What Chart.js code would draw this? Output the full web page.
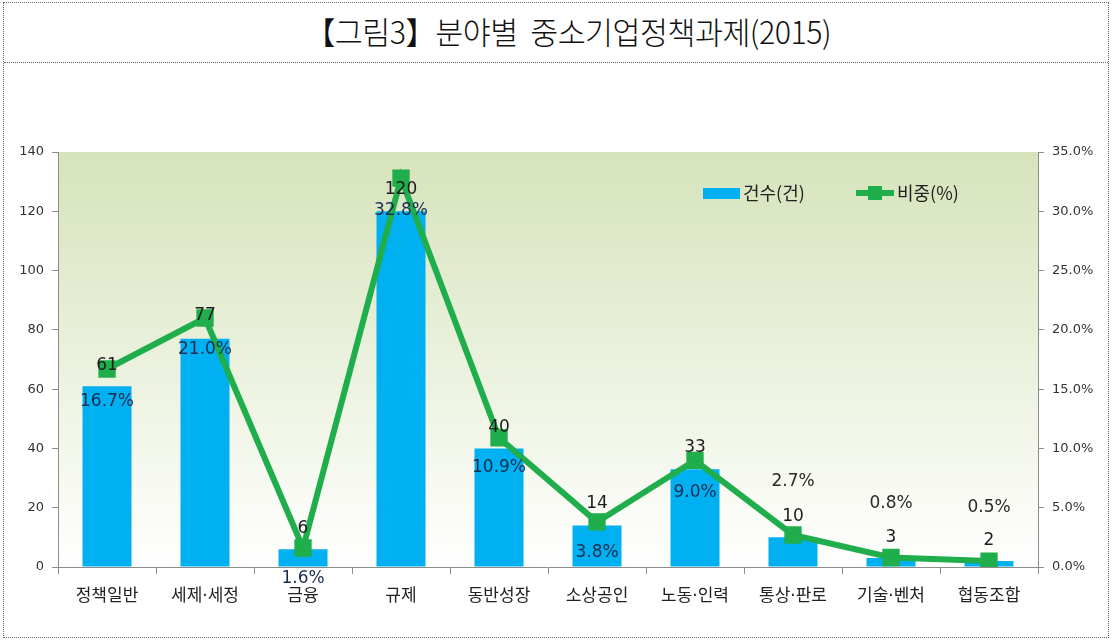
<!DOCTYPE html>
<html>
<head>
<meta charset="utf-8">
<script src="https://cdn.jsdelivr.net/npm/chart.js@4.4.1/dist/chart.umd.min.js"></script>
<style>
body { margin: 0; background: #fff; }
#frame { position: absolute; left: 3px; top: 2px; width: 1104px; height: 634px; border: 1px dotted #666; }
#title { position: absolute; left: 0; top: 0; width: 100%; height: 59px; border-bottom: 1px dotted #666; }
#title span { position: absolute; left: 564px; top: 27px; transform: translate(-50%, -50%) scaleX(0.98);
  white-space: nowrap; font-family: "Noto Sans CJK KR", sans-serif; font-weight: 300; font-size: 31px; color: #111; letter-spacing: -0.5px; }
#wrap { position: absolute; left: 0; top: 64px; width: 1112px; height: 576px; }
</style>
</head>
<body>
<div id="frame"><div id="title"><span>【그림3】분야별&nbsp;&nbsp;중소기업정책과제(2015)</span></div></div>
<div id="wrap"><canvas id="chart" width="1112" height="576"></canvas></div>
<script>
const categories = ['정책일반', '세제·세정', '금융', '규제', '동반성장', '소상공인', '노동·인력', '통상·판로', '기술·벤처', '협동조합'];
const counts = [61, 77, 6, 120, 40, 14, 33, 10, 3, 2];
const shares = [16.7, 21.0, 1.6, 32.8, 10.9, 3.8, 9.0, 2.7, 0.8, 0.5];
const countTicksMax = 140;
const shareTicksMax = 35;

// label nudges (px, + = down) taken from the original layout
const countLabelShift = [-21, -23, -21, -22, -21, -22, -22, -21, -21, -20];
const shareLabelShift = [33, 32, 31, 32, 30, 31, 32, -53, -54, -53];

const bgPlugin = {
    id: 'plotBg',
    beforeDraw(chart) {
        const a = chart.chartArea, ctx = chart.ctx;
        const g = ctx.createLinearGradient(0, a.top, 0, a.bottom);
        g.addColorStop(0, '#d6e3bb');
        g.addColorStop(1, '#ffffff');
        ctx.save();
        ctx.fillStyle = g;
        ctx.fillRect(a.left, a.top, a.right - a.left, a.bottom - a.top);
        ctx.restore();
    }
};

const labelPlugin = {
    id: 'valueLabels',
    afterDraw(chart) {
        const ctx = chart.ctx;
        const barMeta = chart.getDatasetMeta(1);
        const lineMeta = chart.getDatasetMeta(0);
        ctx.save();
        ctx.textAlign = 'center';
        ctx.textBaseline = 'middle';
        ctx.font = '17px "DejaVu Sans", sans-serif';
        barMeta.data.forEach(function(bar, i){
            ctx.fillStyle = '#1c1c1c';
            ctx.fillText(String(counts[i]), bar.x, bar.y + countLabelShift[i]);
        });
        lineMeta.data.forEach(function(pt, i){
            ctx.fillStyle = shareLabelShift[i] > 0 ? '#1b2c50' : '#2a2a2a';
            ctx.fillText(shares[i].toFixed(1) + '%', pt.x, pt.y + shareLabelShift[i]);
        });

        // legend inside the plot
        ctx.font = '18px "Noto Sans CJK KR", sans-serif';
        ctx.textAlign = 'left';
        ctx.fillStyle = '#00b0f0';
        ctx.fillRect(703, 124, 37, 11);
        ctx.fillStyle = '#222';
        ctx.fillText('건수(건)', 743, 129);
        ctx.strokeStyle = '#1fae4b';
        ctx.lineWidth = 6;
        ctx.beginPath();
        ctx.moveTo(856, 129);
        ctx.lineTo(894, 129);
        ctx.stroke();
        ctx.fillStyle = '#1fae4b';
        ctx.fillRect(868, 122, 14, 14);
        ctx.fillStyle = '#222';
        ctx.fillText('비중(%)', 897, 129);
        ctx.restore();
    }
};

const ctx = document.getElementById('chart').getContext('2d');
const chart = new Chart(ctx, {
    type: 'bar',
    data: {
        labels: categories,
        datasets: [{
            type: 'line',
            label: '비중(%)',
            data: shares,
            yAxisID: 'y2',
            borderColor: '#1fae4b',
            backgroundColor: '#1fae4b',
            borderWidth: 6,
            pointStyle: 'rect',
            pointRadius: 8,
            pointHoverRadius: 8,
            tension: 0,
            order: 0
        }, {
            label: '건수(건)',
            data: counts,
            yAxisID: 'y',
            backgroundColor: '#00b0f0',
            barPercentage: 0.5,
            categoryPercentage: 1.0,
            order: 1
        }]
    },
    plugins: [bgPlugin, labelPlugin],
    options: {
        responsive: false,
        animation: false,
        layout: { padding: { top: 88, bottom: 23, left: 0, right: 0 } },
        plugins: {
            legend: { display: false },
            tooltip: { enabled: false }
        },
        scales: {
            x: {
                grid: { drawOnChartArea: false, tickLength: 7, color: '#8c8c8c', offset: true },
                border: { color: '#8c8c8c' },
                ticks: { color: '#222', font: { family: '"DejaVu Sans", "Noto Sans CJK KR", sans-serif', size: 17 }, padding: 12 },
                afterFit(scale) { scale.height = 50; }
            },
            y: {
                position: 'left',
                min: 0, max: countTicksMax,
                ticks: { stepSize: 20, color: '#333', font: { family: '"DejaVu Sans", sans-serif', size: 13 }, padding: 8 },
                grid: { drawOnChartArea: false, tickLength: 6, color: '#8c8c8c' },
                border: { color: '#8c8c8c' },
                afterFit(scale) { scale.width = 58; }
            },
            y2: {
                position: 'right',
                min: 0, max: shareTicksMax,
                ticks: { stepSize: 5, color: '#333', font: { family: '"DejaVu Sans", sans-serif', size: 13 }, padding: 8,
                    callback: function(v){ return Number(v).toFixed(1) + '%'; } },
                grid: { drawOnChartArea: false, tickLength: 6, color: '#8c8c8c' },
                border: { color: '#8c8c8c' },
                afterFit(scale) { scale.width = 74; }
            }
        }
    }
});
</script>
</body>
</html>
